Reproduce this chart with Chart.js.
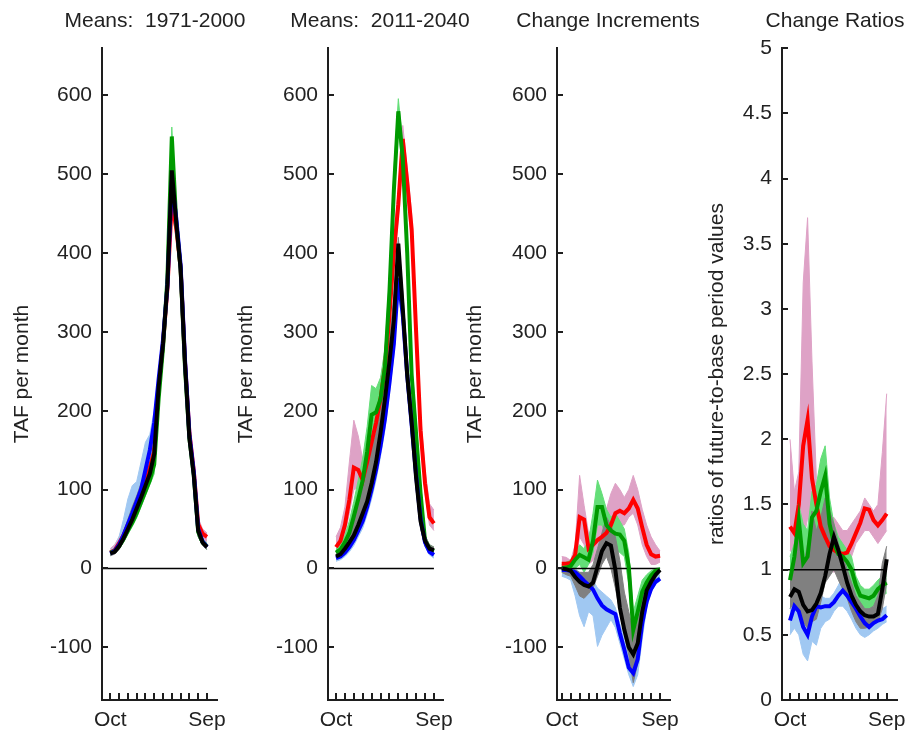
<!DOCTYPE html>
<html><head><meta charset="utf-8">
<script src="https://cdn.jsdelivr.net/npm/chart.js@4.4.1/dist/chart.umd.min.js"></script>
<style>
html,body{margin:0;padding:0;background:#fff;overflow:hidden;}
#wrap{position:relative;width:910px;height:734px;overflow:hidden;}
.p{position:absolute;top:0;height:734px;}
</style></head><body>
<div id="wrap">
<div class="p" style="left:0px;width:270px"><canvas id="c1"></canvas></div>
<div class="p" style="left:230px;width:260px"><canvas id="c2"></canvas></div>
<div class="p" style="left:460px;width:256px"><canvas id="c3"></canvas></div>
<div class="p" style="left:690px;width:242px"><canvas id="c4"></canvas></div>
</div>
<script>
// ---------- shared axis data ----------
const months = [0,0.5,1,1.5,2,2.5,3,3.5,4,4.5,5,5.5,6,6.5,7,7.5,8,8.5,9,9.5,10,10.5,11];
const monthTicks = [0,1,2,3,4,5,6,7,8,9,10,11];
const monthLabels = ['Oct','','','','','','','','','','','Sep'];
const flowTicks = [-100,0,100,200,300,400,500,600];
const ratioTicks = [0,0.5,1,1.5,2,2.5,3,3.5,4,4.5,5];
const panelTitles = ['Means:  1971-2000','Means:  2011-2040','Change Increments','Change Ratios'];
const yTitles = ['TAF per month','TAF per month','TAF per month','ratios of future-to-base period values'];
const refValues = [0,0,0,1];

// ---------- Panel 1: Means 1971-2000 ----------
const baseRed   = [20,23,32,42,55,66,80,95,110,128,148,228,285,355,465,432,382,262,172,124,56,44,40];
const baseGreen = [20,22,28,37,48,58,70,84,98,112,132,215,280,368,548,440,380,255,165,118,46,33,28];
const baseBlue  = [19,22,30,42,56,70,85,100,125,150,185,240,290,358,490,445,385,265,170,122,50,34,27];
const baseBlack = [19,21,28,38,50,62,76,90,105,120,145,230,285,360,505,440,380,260,165,118,48,33,27];
const basePinkLo   = [17,20,28,36,48,58,72,86,100,116,135,218,276,346,452,420,372,252,162,115,48,38,34];
const basePinkHi   = [25,30,40,55,72,85,98,115,140,148,165,238,294,364,478,440,390,270,180,132,64,50,45];
const baseLGreenLo = [17,19,24,33,43,53,64,78,92,106,120,205,270,356,532,430,370,246,156,110,40,29,24];
const baseLGreenHi = [22,25,32,42,56,68,82,95,110,125,145,228,290,375,560,450,390,264,174,126,54,37,32];
const baseLBlueLo  = [16,19,26,36,48,60,74,88,104,120,160,225,280,350,478,436,376,256,162,115,42,30,24];
const baseLBlueHi  = [23,28,40,62,88,105,110,135,160,170,200,250,298,368,500,452,394,274,178,130,58,38,31];
const baseGrayLo   = [16,18,24,33,44,55,68,82,96,110,132,215,276,350,490,430,372,250,158,110,40,29,24];
const baseGrayHi   = [22,25,33,46,62,78,92,108,122,135,160,240,292,370,512,448,390,268,172,125,55,37,31];

// ---------- Panel 2: Means 2011-2040 ----------
const futRed   = [27,35,55,87,128,125,112,135,160,185,215,255,320,400,462,545,490,430,300,175,108,65,57];
const futGreen = [20,24,33,45,66,88,112,148,195,198,215,255,350,480,580,520,400,245,170,95,35,25,22];
const futBlue  = [13,15,20,27,36,48,60,78,100,125,155,190,235,285,368,322,245,182,118,63,33,21,17];
const futBlack = [15,18,25,33,42,55,70,85,108,135,172,215,262,315,412,330,245,185,115,60,35,25,23];
const futPinkLo   = [20,27,43,70,100,102,95,115,145,170,200,240,305,385,445,525,470,410,282,162,95,55,48];
const futPinkHi   = [40,52,78,135,188,168,138,150,178,200,235,280,345,425,480,562,508,450,320,196,125,82,74];
const futLGreenLo = [15,19,27,37,52,72,95,128,172,178,200,240,330,460,562,500,380,228,152,82,30,20,17];
const futLGreenHi = [25,30,42,60,85,112,140,180,232,228,242,278,372,505,596,538,418,262,188,110,42,30,27];
const futLBlueLo  = [9,11,15,21,29,40,51,68,88,112,142,176,222,270,352,305,232,170,106,52,28,17,13];
const futLBlueHi  = [17,20,26,35,46,58,72,92,114,140,170,206,252,302,380,340,262,196,132,78,42,27,22];
const futGrayLo   = [12,15,21,29,38,50,63,80,100,125,158,200,245,295,395,310,228,168,102,50,28,20,18];
const futGrayHi   = [19,23,32,45,62,82,105,125,150,172,200,240,290,345,420,352,265,205,135,78,42,30,27];

// ---------- Panel 3: Change Increments ----------
const incRed   = [6,6,7,17,65,62,25,30,36,40,45,55,70,73,70,76,87,76,52,30,18,15,16];
const incGreen = [0,1,3,11,17,14,11,35,78,78,55,48,44,43,35,2,-78,-55,-30,-18,-9,-3,-2];
const incBlue  = [-2,-2,-3,-5,-10,-16,-21,-27,-38,-47,-52,-55,-58,-82,-103,-126,-133,-115,-70,-42,-26,-17,-13];
const incBlack = [0,-1,-3,-11,-17,-21,-23,-18,2,22,32,29,-2,-50,-78,-100,-109,-95,-55,-28,-17,-8,-2];
const incPinkLo   = [0,0,0,5,40,30,5,10,15,20,25,40,55,55,55,65,70,55,30,15,5,5,8];
const incPinkHi   = [15,14,10,30,118,80,45,50,55,60,75,95,108,100,90,100,118,100,75,55,40,30,22];
const incLGreenLo = [-5,-5,-5,0,5,-5,5,20,55,55,40,30,25,20,15,-20,-95,-75,-45,-25,-15,-6,-4];
const incLGreenHi = [5,8,10,20,30,25,35,70,112,95,75,65,70,60,50,20,-55,-35,-15,-8,-3,0,1];
const incLBlueLo  = [-10,-12,-15,-35,-60,-74,-55,-60,-99,-85,-75,-65,-75,-95,-115,-135,-150,-135,-90,-50,-30,-20,-16];
const incLBlueHi  = [0,0,0,0,-5,-10,-10,-15,-25,-30,-35,-40,-50,-70,-90,-110,-125,-105,-55,-30,-15,-10,-8];
const incGrayLo   = [-5,-8,-10,-22,-35,-38,-32,-25,-10,5,15,0,-25,-55,-85,-110,-145,-120,-75,-40,-25,-12,-5];
const incGrayHi   = [3,2,0,-2,-5,-5,-5,5,25,45,65,55,40,10,-30,-55,-80,-70,-40,-20,-8,-3,0];

// ---------- Panel 4: Change Ratios ----------
const ratRed   = [1.33,1.28,1.5,1.95,2.15,1.7,1.5,1.33,1.25,1.18,1.15,1.13,1.12,1.13,1.2,1.28,1.36,1.47,1.46,1.38,1.34,1.38,1.43];
const ratGreen = [0.92,1.1,1.38,1.05,1.1,1.4,1.45,1.6,1.72,1.35,1.2,1.12,1.1,1.06,1.0,0.88,0.8,0.79,0.78,0.8,0.85,0.88,0.9];
const ratBlue  = [0.61,0.72,0.68,0.56,0.5,0.64,0.72,0.71,0.72,0.72,0.75,0.8,0.84,0.8,0.75,0.7,0.64,0.59,0.56,0.59,0.61,0.62,0.65];
const ratBlack = [0.79,0.85,0.83,0.73,0.68,0.69,0.74,0.82,0.95,1.12,1.25,1.15,1.03,0.9,0.8,0.73,0.68,0.65,0.64,0.64,0.66,0.85,1.08];
const ratPinkLo   = [1.15,1.1,1.15,1.2,1.4,1.2,1.05,1.0,1.0,1.0,0.98,1.0,1.0,1.05,1.1,1.2,1.25,1.3,1.3,1.25,1.2,1.25,1.3];
const ratPinkHi   = [2.0,1.6,1.75,3.2,3.7,2.6,1.7,1.5,1.45,1.4,1.4,1.35,1.3,1.3,1.35,1.4,1.45,1.55,1.5,1.45,1.5,1.9,2.35];
const ratLGreenLo = [0.85,0.9,1.1,0.8,0.85,1.05,1.15,1.3,1.45,1.15,1.05,1.0,0.98,0.9,0.8,0.72,0.68,0.68,0.7,0.72,0.78,0.8,0.82];
const ratLGreenHi = [1.1,1.2,1.5,1.35,1.3,1.6,1.65,1.85,1.95,1.55,1.35,1.25,1.2,1.15,1.1,0.95,0.88,0.85,0.85,0.88,0.92,0.95,1.0];
const ratLBlueLo  = [0.5,0.55,0.5,0.35,0.3,0.45,0.42,0.55,0.6,0.62,0.68,0.72,0.72,0.68,0.62,0.55,0.5,0.48,0.5,0.53,0.55,0.58,0.6];
const ratLBlueHi  = [0.7,0.8,0.78,0.65,0.62,0.78,0.8,0.8,0.78,0.78,0.82,0.88,0.95,0.85,0.78,0.72,0.66,0.62,0.63,0.66,0.68,0.7,0.72];
const ratGrayLo   = [0.7,0.75,0.65,0.6,0.55,0.6,0.62,0.75,0.9,0.95,1.0,0.92,0.85,0.78,0.68,0.6,0.55,0.55,0.56,0.58,0.6,0.7,0.9];
const ratGrayHi   = [1.0,1.05,1.4,1.0,1.2,1.45,1.3,1.4,1.55,1.45,1.35,1.2,1.1,1.0,0.9,0.8,0.75,0.7,0.7,0.72,0.8,1.05,1.18];

// ---------- styling ----------
const COL = {red:'#ff0000', green:'#009a00', blue:'#0000ff', black:'#000000',
  pink:'rgb(222,162,198)', lgreen:'rgb(100,222,120)', lblue:'rgb(160,200,242)', gray:'rgb(128,128,128)'};
const axisColor = '#1e1e1e';
const textColor = '#222222';
const fontFamily = '"Liberation Sans", Arial, Helvetica, sans-serif';
const FONT = {family: fontFamily, size: 21, weight: 'normal'};

const layouts = [
  {id:'c1', padL:40, yW:62, y2W:53, yTitlePad:-30.6, xMin:-0.94, xMax:12.14, yMin:-167, yMax:660},
  {id:'c2', padL:40, yW:58, y2W:47, yTitlePad:-35.9, xMin:-0.90, xMax:12.02, yMin:-167, yMax:660},
  {id:'c3', padL:40, yW:57, y2W:46, yTitlePad:-37.1, xMin:-0.53, xMax:12.11, yMin:-167, yMax:660},
  {id:'c4', padL:48, yW:44, y2W:35, yTitlePad:-33.6, xMin:-0.91, xMax:12.17, yMin:0, yMax:5}
];

const panelSeries = [
  {red:baseRed, green:baseGreen, blue:baseBlue, black:baseBlack, pinkLo:basePinkLo, pinkHi:basePinkHi,
   lgreenLo:baseLGreenLo, lgreenHi:baseLGreenHi, lblueLo:baseLBlueLo, lblueHi:baseLBlueHi, grayLo:baseGrayLo, grayHi:baseGrayHi, ticks:flowTicks},
  {red:futRed, green:futGreen, blue:futBlue, black:futBlack, pinkLo:futPinkLo, pinkHi:futPinkHi,
   lgreenLo:futLGreenLo, lgreenHi:futLGreenHi, lblueLo:futLBlueLo, lblueHi:futLBlueHi, grayLo:futGrayLo, grayHi:futGrayHi, ticks:flowTicks},
  {red:incRed, green:incGreen, blue:incBlue, black:incBlack, pinkLo:incPinkLo, pinkHi:incPinkHi,
   lgreenLo:incLGreenLo, lgreenHi:incLGreenHi, lblueLo:incLBlueLo, lblueHi:incLBlueHi, grayLo:incGrayLo, grayHi:incGrayHi, ticks:flowTicks},
  {red:ratRed, green:ratGreen, blue:ratBlue, black:ratBlack, pinkLo:ratPinkLo, pinkHi:ratPinkHi,
   lgreenLo:ratLGreenLo, lgreenHi:ratLGreenHi, lblueLo:ratLBlueLo, lblueHi:ratLBlueHi, grayLo:ratGrayLo, grayHi:ratGrayHi, ticks:ratioTicks}
];

function pts(arr){ return months.map((m,i)=>({x:m, y:arr[i]})); }
function band(lo, hi, color, order){
  return [
    {data:pts(lo), borderColor:color, backgroundColor:color, borderWidth:1, fill:false, order, xAxisID:'x', yAxisID:'y'},
    {data:pts(hi), borderColor:color, backgroundColor:color, borderWidth:1, fill:'-1', order, xAxisID:'x', yAxisID:'y'}
  ];
}
function thick(arr, color, order){
  return {data:pts(arr), borderColor:color, backgroundColor:color, borderWidth:4, fill:false, order, xAxisID:'x', yAxisID:'y'};
}

const inwardTicks = {
  id:'inwardTicks',
  afterDraw(chart){
    const {ctx, chartArea} = chart;
    const x = chart.scales.x, y = chart.scales.y;
    ctx.save();
    ctx.strokeStyle = axisColor; ctx.lineWidth = 2;
    ctx.beginPath();
    x.ticks.forEach(t=>{ const px = Math.round(x.getPixelForValue(t.value));
      ctx.moveTo(px, chartArea.bottom); ctx.lineTo(px, chartArea.bottom - 7); });
    y.ticks.forEach(t=>{ const py = Math.round(y.getPixelForValue(t.value));
      ctx.moveTo(chartArea.left, py); ctx.lineTo(chartArea.left + 6, py); });
    ctx.stroke();
    ctx.restore();
  }
};

layouts.forEach((cfg, k)=>{
  const s = panelSeries[k];
  const ds = [];
  ds.push(thick(s.black, COL.black, 1));
  ds.push(thick(s.blue, COL.blue, 2));
  ds.push(thick(s.green, COL.green, 3));
  ds.push(thick(s.red, COL.red, 4));
  ds.push({data:[{x:cfg.xMin, y:refValues[k]},{x:11, y:refValues[k]}], borderColor:'#000', borderWidth:1.5, fill:false, order:5, xAxisID:'x', yAxisID:'y'});
  ds.push(...band(s.grayLo, s.grayHi, COL.gray, 6));
  ds.push(...band(s.lgreenLo, s.lgreenHi, COL.lgreen, 7));
  ds.push(...band(s.lblueLo, s.lblueHi, COL.lblue, 8));
  ds.push(...band(s.pinkLo, s.pinkHi, COL.pink, 9));

  new Chart(document.getElementById(cfg.id), {
    type:'line',
    data:{datasets:ds},
    options:{
      responsive:true, maintainAspectRatio:false, animation:false, events:[], devicePixelRatio:1,
      layout:{padding:{left:cfg.padL, right:0, top:0, bottom:0}},
      elements:{point:{radius:0, hoverRadius:0}, line:{tension:0}},
      plugins:{
        legend:{display:false}, tooltip:{enabled:false},
        title:{display:true, text:panelTitles[k], color:textColor, font:FONT, padding:{top:9, bottom:14}}
      },
      scales:{
        x:{type:'linear', position:'bottom', min:cfg.xMin, max:cfg.xMax,
           afterBuildTicks:sc=>{ sc.ticks = monthTicks.map(v=>({value:v})); },
           afterFit:sc=>{ sc.height = 34; sc.paddingLeft = 0; sc.paddingRight = 0; },
           grid:{display:false, drawTicks:false},
           border:{display:true, color:axisColor, width:2},
           ticks:{autoSkip:false, maxRotation:0, minRotation:0, padding:8, color:textColor, font:FONT,
                  callback:(v,i)=>monthLabels[i]}},
        y:{type:'linear', position:'left', min:cfg.yMin, max:cfg.yMax,
           afterBuildTicks:sc=>{ sc.ticks = s.ticks.map(v=>({value:v})); },
           afterFit:sc=>{ sc.width = cfg.yW; sc.paddingTop = 0; sc.paddingBottom = 0; },
           grid:{display:false, drawTicks:false},
           border:{display:true, color:axisColor, width:2},
           ticks:{padding:10, color:textColor, font:FONT, callback:v=>String(v)},
           title:{display:true, text:yTitles[k], color:textColor, font:FONT, padding:{top:cfg.yTitlePad, bottom:0}}},
        y2:{type:'linear', position:'right', display:true,
           afterFit:sc=>{ sc.width = cfg.y2W; sc.paddingTop = 0; sc.paddingBottom = 0; },
           grid:{display:false, drawTicks:false}, border:{display:false}, ticks:{display:false}}
      }
    },
    plugins:[inwardTicks]
  });
});
</script>
</body></html>
